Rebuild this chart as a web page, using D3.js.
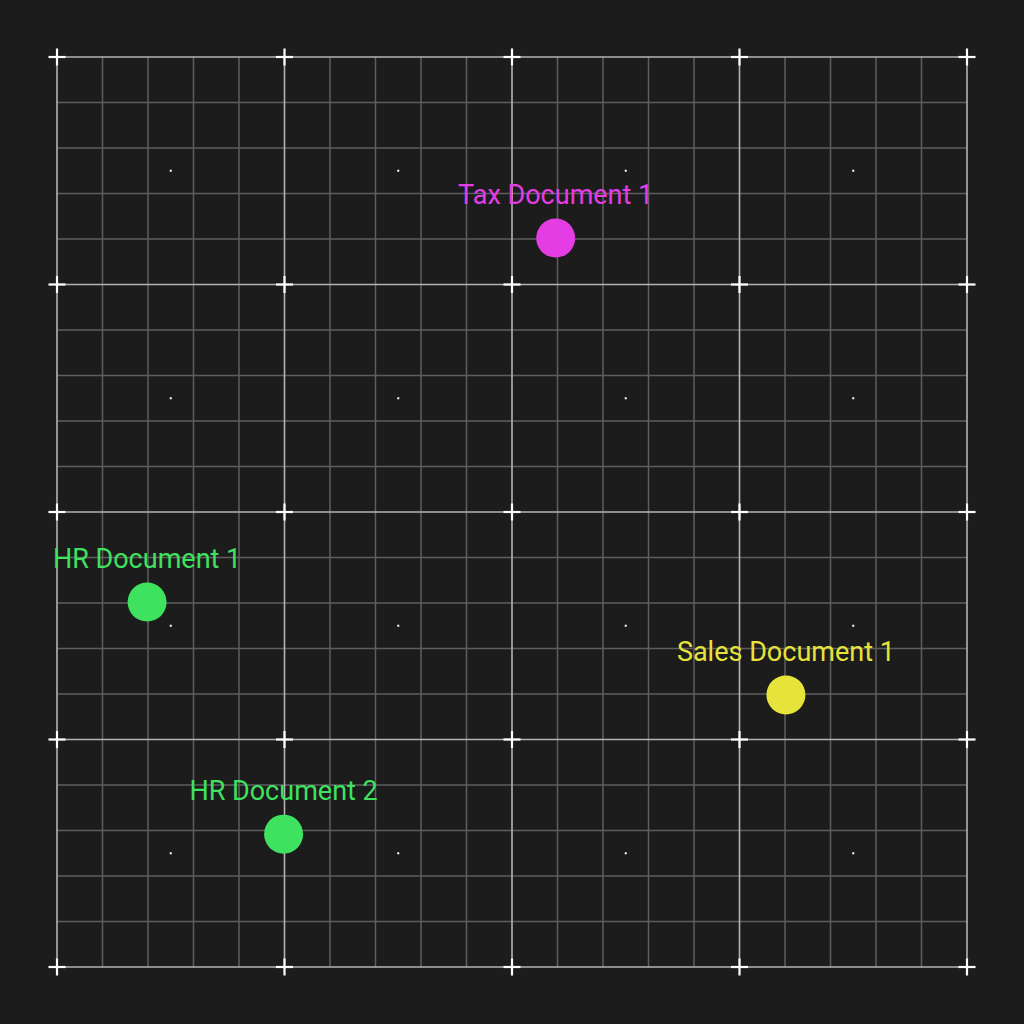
<!DOCTYPE html>
<html>
<head>
<meta charset="utf-8">
<script src="https://cdn.jsdelivr.net/npm/d3@7"></script>
<style>
html,body{margin:0;padding:0;background:#1c1c1c;}
svg{display:block;}
</style>
</head>
<body>
<svg id="chart" width="1024" height="1024"></svg>
<script>
const labels = ["Tax Document 1", "HR Document 1", "Sales Document 1", "HR Document 2"];
const xValues = [54.8, 9.9, 80.1, 24.9];
const yValues = [80.1, 40.1, 29.9, 14.6];
const categories = ["tax", "hr", "sales", "hr"];
const categoryNames = ["tax", "hr", "sales"];
const categoryColors = ["#e43de4", "#3ee25f", "#e6e33b"];
const majorTicks = [0, 25, 50, 75, 100];
const minorTicks = d3.range(0, 101, 5);
const centerTicks = [12.5, 37.5, 62.5, 87.5];

const svg = d3.select("#chart");
svg.append("rect").attr("width",1024).attr("height",1024).attr("fill","#1c1c1c");

const x = d3.scaleLinear().domain([0,100]).range([57,967]);
const y = d3.scaleLinear().domain([0,100]).range([967,57]);
const color = d3.scaleOrdinal().domain(categoryNames).range(categoryColors);

const g = svg.append("g");
// minor grid
g.selectAll(".mvx").data(minorTicks.filter(t=>t%25!==0)).join("line")
  .attr("x1",d=>x(d)).attr("x2",d=>x(d)).attr("y1",y(100)).attr("y2",y(0))
  .attr("stroke","#5e5e5e").attr("stroke-width",1.5);
g.selectAll(".mhy").data(minorTicks.filter(t=>t%25!==0)).join("line")
  .attr("y1",d=>y(d)).attr("y2",d=>y(d)).attr("x1",x(0)).attr("x2",x(100))
  .attr("stroke","#5e5e5e").attr("stroke-width",1.5);
// major grid
const mg = svg.append("g");
mg.selectAll("line.v").data(majorTicks).join("line").attr("class","v")
  .attr("x1",d=>x(d)).attr("x2",d=>x(d)).attr("y1",y(100)).attr("y2",y(0))
  .attr("stroke","#b4b4b4").attr("stroke-width",1.6);
mg.selectAll("line.h").data(majorTicks).join("line").attr("class","h")
  .attr("y1",d=>y(d)).attr("y2",d=>y(d)).attr("x1",x(0)).attr("x2",x(100))
  .attr("stroke","#b4b4b4").attr("stroke-width",1.6);

// crosses
const crosses = [];
majorTicks.forEach(a=>majorTicks.forEach(b=>crosses.push([a,b])));
const cg = svg.append("g");
crosses.forEach(([a,b])=>{
  cg.append("line").attr("x1",x(a)-8.5).attr("x2",x(a)+8.5).attr("y1",y(b)).attr("y2",y(b))
    .attr("stroke","#ffffff").attr("stroke-width",2.2);
  cg.append("line").attr("y1",y(b)-8.5).attr("y2",y(b)+8.5).attr("x1",x(a)).attr("x2",x(a))
    .attr("stroke","#ffffff").attr("stroke-width",2.2);
});
// center dots
const dots = [];
centerTicks.forEach(a=>centerTicks.forEach(b=>dots.push([a,b])));
svg.append("g").selectAll("rect").data(dots).join("rect")
  .attr("x",d=>x(d[0])-1).attr("y",d=>y(d[1])-1).attr("width",2).attr("height",2)
  .attr("fill","#ffffff");

// points
const pts = labels.map((l,i)=>({label:l,x:xValues[i],y:yValues[i],cat:categories[i]}));
const pg = svg.append("g");
pg.selectAll("circle").data(pts).join("circle")
  .attr("cx",d=>x(d.x)).attr("cy",d=>y(d.y)).attr("r",19.5)
  .attr("fill",d=>color(d.cat));
pg.selectAll("text").data(pts).join("text")
  .attr("x",d=>x(d.x)).attr("y",d=>y(d.y)-34)
  .attr("text-anchor","middle")
  .attr("font-family","Roboto, sans-serif").attr("font-size",27)
  .attr("fill",d=>color(d.cat))
  .text(d=>d.label);
</script>
</body>
</html>
